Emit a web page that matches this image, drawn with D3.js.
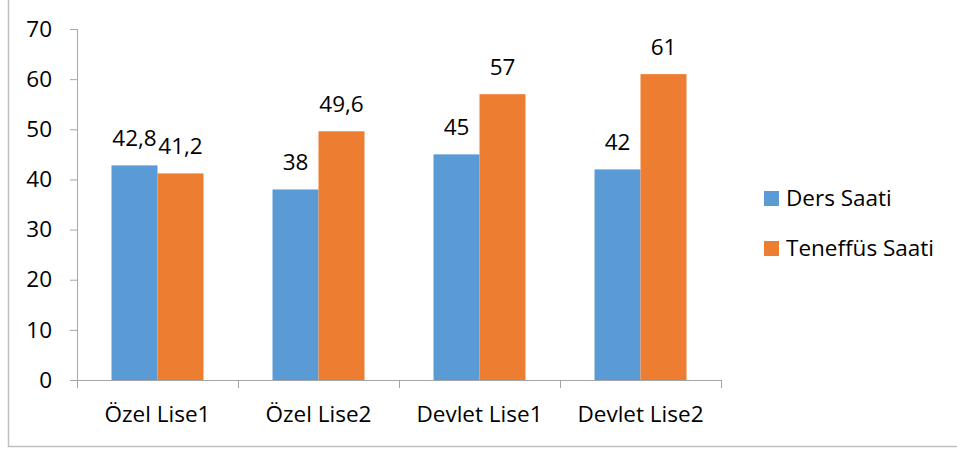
<!DOCTYPE html>
<html>
<head>
<meta charset="utf-8">
<script src="https://cdn.jsdelivr.net/npm/d3@7"></script>
<style>
  body { margin: 0; background: #fff; }
  text { font-family: "Open Sans", "Noto Sans", sans-serif; fill: #000; }
</style>
</head>
<body>
<script>
// Chart data
var categories = ["Özel Lise1", "Özel Lise2", "Devlet Lise1", "Devlet Lise2"];
var seriesNames = ["Ders Saati", "Teneffüs Saati"];
var dersSaati = [42.8, 38, 45, 42];
var teneffusSaati = [41.2, 49.6, 57, 61];
var yTicks = [0, 10, 20, 30, 40, 50, 60, 70];
var colors = ["#5B9BD5", "#ED7D31"];

var svgWidth = 957;
var svgHeight = 450;

var margin = { top: 29, left: 77 };
var chartWidth = 644;
var chartHeight = 351;
var fontSize = "22.5px";

var svg = d3.select("body")
  .append("svg")
  .attr("width", svgWidth)
  .attr("height", svgHeight);

// outer frame (cropped at top and right)
svg.append("path")
  .attr("d", "M8.5,0 V446.5 H957")
  .attr("fill", "none")
  .attr("stroke", "#BFBFBF")
  .attr("stroke-width", 1.5);

var chartGroup = svg.append("g")
  .attr("transform", `translate(${margin.left}, ${margin.top})`);

var rows = categories.map((c, i) => ({ cat: c, values: [dersSaati[i], teneffusSaati[i]] }));

var x0 = d3.scaleBand()
  .domain(categories)
  .range([0, chartWidth])
  .paddingInner(0.4286)
  .paddingOuter(0.2143);

var x1 = d3.scaleBand()
  .domain([0, 1])
  .range([0, x0.bandwidth()]);

var yScale = d3.scaleLinear()
  .domain([0, 70])
  .range([chartHeight, 0]);

// y axis
var yAxis = chartGroup.append("g")
  .call(d3.axisLeft(yScale).tickValues(yTicks).tickSize(7).tickPadding(18).tickFormat(d3.format("d")));
yAxis.attr("font-size", null).attr("font-family", null);
yAxis.selectAll("line").attr("stroke", "#A6A6A6");
yAxis.select(".domain").attr("stroke", "#A6A6A6").attr("d", `M0.5,0V${chartHeight}`);
yAxis.selectAll("text").style("font-size", fontSize);

// bars
var groups = chartGroup.selectAll(".grp")
  .data(rows)
  .enter()
  .append("g")
  .attr("class", "grp")
  .attr("transform", d => `translate(${x0(d.cat)}, 0)`);

groups.selectAll("rect")
  .data(d => d.values)
  .enter()
  .append("rect")
  .attr("x", (d, i) => x1(i))
  .attr("y", d => yScale(d))
  .attr("width", x1.bandwidth())
  .attr("height", d => chartHeight - yScale(d))
  .attr("fill", (d, i) => colors[i]);

groups.selectAll(".lbl")
  .data(d => d.values)
  .enter()
  .append("text")
  .attr("class", "lbl")
  .attr("x", (d, i) => x1(i) + x1.bandwidth() / 2)
  .attr("y", d => yScale(d) - 19)
  .attr("text-anchor", "middle")
  .style("font-size", fontSize)
  .text(d => String(d).replace(".", ","));

// x axis with ticks at category boundaries
var step = x0.step();
var xAxisG = chartGroup.append("g")
  .attr("transform", `translate(0, ${chartHeight})`);
xAxisG.append("line")
  .attr("x1", -7).attr("x2", chartWidth)
  .attr("y1", 0.5).attr("y2", 0.5)
  .attr("stroke", "#A6A6A6");
xAxisG.selectAll(".xtick")
  .data(d3.range(categories.length + 1))
  .enter()
  .append("line")
  .attr("x1", i => Math.round(i * step) + 0.5)
  .attr("x2", i => Math.round(i * step) + 0.5)
  .attr("y1", 0).attr("y2", 8)
  .attr("stroke", "#A6A6A6");
xAxisG.selectAll(".xlab")
  .data(categories)
  .enter()
  .append("text")
  .attr("x", d => x0(d) + x0.bandwidth() / 2)
  .attr("y", 42)
  .attr("text-anchor", "middle")
  .style("font-size", fontSize)
  .text(d => d);

// legend
var legend = svg.selectAll(".legend")
  .data(seriesNames)
  .enter()
  .append("g")
  .attr("transform", (d, i) => `translate(764, ${191 + i * 50})`);
legend.append("rect")
  .attr("width", 15).attr("height", 15)
  .attr("fill", (d, i) => colors[i]);
legend.append("text")
  .attr("x", 22)
  .attr("y", 15)
  .style("font-size", fontSize)
  .text(d => d);
</script>
</body>
</html>
